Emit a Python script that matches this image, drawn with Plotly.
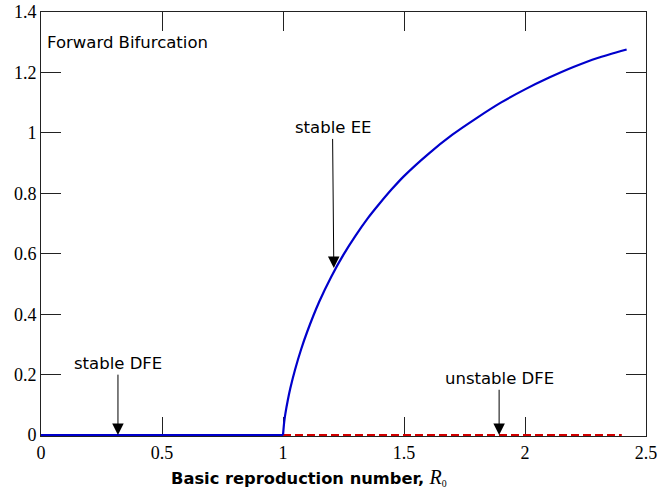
import plotly.graph_objects as go

# Data
r0_dfe_stable = [0.0, 1.0]
i_dfe_stable = [0.0, 0.0]

r0_dfe_unstable = [1.0, 2.40]
i_dfe_unstable = [0.0, 0.0]

r0_ee = [1.0, 1.005, 1.01, 1.02, 1.03, 1.05, 1.075, 1.10, 1.15, 1.20, 1.25, 1.30,
         1.35, 1.40, 1.45, 1.50, 1.60, 1.70, 1.80, 1.90, 2.00, 2.10, 2.20, 2.30, 2.42]
i_ee = [0.0, 0.044, 0.072, 0.116, 0.154, 0.217, 0.284, 0.342, 0.442, 0.525, 0.597, 0.660,
        0.717, 0.767, 0.814, 0.857, 0.930, 0.994, 1.049, 1.100, 1.144, 1.183, 1.218, 1.248,
        1.276]

x_ticks = [0, 0.5, 1, 1.5, 2, 2.5]
x_tick_labels = ["0", "0.5", "1", "1.5", "2", "2.5"]
y_ticks = [0, 0.2, 0.4, 0.6, 0.8, 1.0, 1.2, 1.4]
y_tick_labels = ["0", "0.2", "0.4", "0.6", "0.8", "1", "1.2", "1.4"]

fig = go.Figure()
fig.add_trace(go.Scatter(x=r0_dfe_unstable, y=i_dfe_unstable, mode="lines",
                         line=dict(color="#d00000", width=2, dash="8px,4px"), showlegend=False))
fig.add_trace(go.Scatter(x=r0_dfe_stable, y=i_dfe_stable, mode="lines",
                         line=dict(color="#0000cc", width=2.2), showlegend=False))
fig.add_trace(go.Scatter(x=r0_ee, y=i_ee, mode="lines", line_shape="spline",
                         line=dict(color="#0000cc", width=2.2, smoothing=0.6), showlegend=False))

ann_font = dict(family="DejaVu Sans", size=16.5, color="black")
arrow_style = dict(showarrow=True, arrowhead=2, arrowsize=2.3, arrowwidth=1,
                   arrowcolor="black", axref="x", ayref="y", standoff=0)
fig.add_annotation(x=0.017, y=1.3, xref="x", yref="y", text="Forward Bifurcation",
                   showarrow=False, xanchor="left", yanchor="middle", font=ann_font)
fig.add_annotation(x=0.318, y=0.0, ax=0.318, ay=0.2, text="stable DFE",
                   font=ann_font, yanchor="bottom", **arrow_style)
fig.add_annotation(x=1.21, y=0.553, ax=1.205, ay=0.98, text="stable EE",
                   font=ann_font, yanchor="bottom", **arrow_style)
fig.add_annotation(x=1.893, y=0.0, ax=1.893, ay=0.15, text="unstable DFE",
                   font=ann_font, yanchor="bottom", **arrow_style)

# x-axis title placed as an annotation (paper coords are relative to plot area)
fig.add_annotation(x=(309 - 41) / 605, y=(436 - 477) / 424, xref="paper", yref="paper",
                   xanchor="center", yanchor="middle", showarrow=False,
                   text="<b>Basic reproduction number,</b> "
                        "<span style='font-family:Liberation Serif;font-size:20px'><i>R</i></span>"
                        "<span style='font-family:Liberation Serif;font-size:14px'><sub>0</sub></span>",
                   font=dict(family="DejaVu Sans", size=16.3, color="black"))

tick_font = dict(family="Liberation Serif", size=18, color="black")
axis_common = dict(ticks="inside", tickwidth=1, tickcolor="#222",
                   showline=True, linecolor="#222", linewidth=1, mirror="allticks",
                   showgrid=False, zeroline=False, tickfont=tick_font,
                   automargin=False, layer="below traces")
fig.update_xaxes(range=[0, 2.5], tickvals=x_ticks, ticktext=x_tick_labels,
                 ticklen=19, **axis_common)
fig.update_yaxes(range=[-0.003, 1.4], tickvals=y_ticks, ticktext=y_tick_labels,
                 ticklen=20, **axis_common)

fig.update_layout(width=660, height=495, paper_bgcolor="white", plot_bgcolor="white",
                  margin=dict(l=41, r=14, t=12, b=59, autoexpand=False), showlegend=False)

fig.write_html("out.html")
